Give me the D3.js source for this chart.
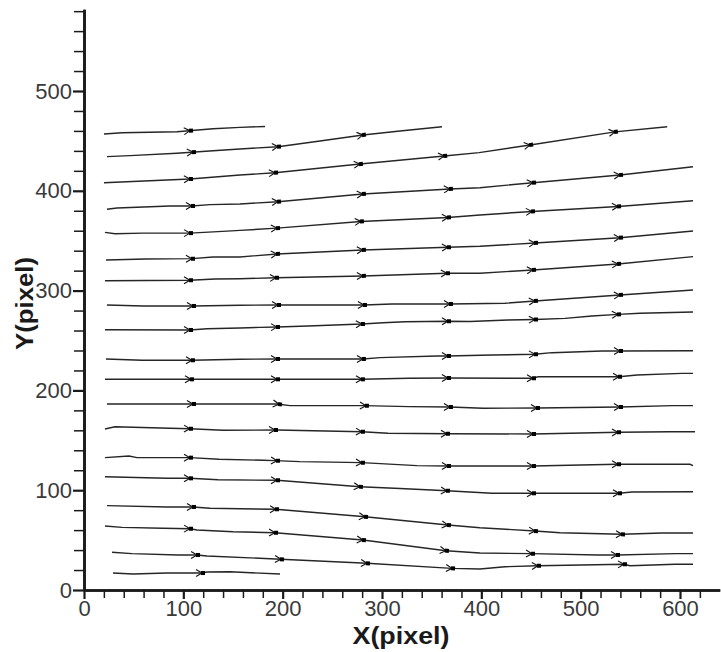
<!DOCTYPE html>
<html>
<head>
<meta charset="utf-8">
<script src="https://cdn.jsdelivr.net/npm/d3@7"></script>
<style>
  html, body { margin: 0; padding: 0; background: #fff; }
  svg { display: block; }
  text { font-family: "Liberation Sans", Arial, sans-serif; }
</style>
</head>
<body>
<svg id="chart" width="721" height="652"></svg>
<script>
// ---- data (data units: pixel coordinates of the measured field) ----
const xMajorTicks = [0, 100, 200, 300, 400, 500, 600];
const xMinorTicks = [20, 40, 60, 80, 120, 140, 160, 180, 220, 240, 260, 280, 320, 340, 360, 380, 420, 440, 460, 480, 520, 540, 560, 580, 620];
const yMajorTicks = [0, 100, 200, 300, 400, 500];
const yMinorTicks = [20, 40, 60, 80, 120, 140, 160, 180, 220, 240, 260, 280, 320, 340, 360, 380, 420, 440, 460, 480, 520, 540, 560, 580];
const xTitle = "X(pixel)";
const yTitle = "Y(pixel)";

const lineA = [[20.1,456.9],[38.3,458.2],[93.6,459.2],[129.9,462.2],[157,463.6],[182.2,464.4]];
const lineB = [[23.1,434.2],[46.3,435.2],[93.6,437.6],[129.9,440.2],[157,441.9],[195.3,444.2],[237.6,449.9],[280.8,455.9],[318.1,459.9],[360.4,464.2]];
const lineC = [[20.1,408.1],[106.7,411.8],[157,415.8],[192.3,418.1],[277.8,426.8],[362.6,434.9],[397.8,438.2],[449.1,445.9],[534.5,459],[587.1,464.2]];
const lineD = [[23.1,381.5],[33.2,382.8],[86.6,384.8],[108.7,384.8],[126.8,386.1],[157,386.8],[195.3,389.1],[280.8,396.8],[368.4,401.8],[398.6,403.1],[452,408.1],[539.6,415.8],[613.1,424.1]];
const lineE = [[21.1,358.3],[31.2,357],[59.4,357.6],[106.7,357.6],[144,359.6],[157,360.3],[194.3,362.6],[278.8,369.3],[366.4,373.3],[398.6,375.8],[451,379.3],[537.6,384.3],[613.1,390]];
const lineF = [[22.1,330.7],[62.4,331.7],[108.7,332],[129.9,333.7],[157,333.7],[194.3,336.7],[280.8,340.7],[366.4,343.4],[398.6,344.4],[454,347.7],[539.6,353],[613.1,359.7]];
const lineG = [[21.1,309.9],[106.7,310.3],[131.9,311.6],[157,311.9],[193.3,312.9],[280.8,314.7],[365.4,317.4],[398.6,317.4],[452,320.7],[537.6,326.7],[613.1,334]];
const lineH = [[23.1,285.6],[59.4,284.6],[109.7,284.6],[157,285.3],[195.3,285.6],[281.8,285.6],[309.9,286.6],[368.4,286.6],[423.8,287.3],[454,289.6],[539.6,295.6],[613.1,300.6]];
const lineI = [[21.1,260.8],[106.7,260.5],[123.8,261.8],[157,262.5],[177.2,263.2],[194.3,263.5],[225.5,264.5],[279.8,266.5],[301,267.8],[323.1,268.8],[366.4,269.3],[388.6,269],[426.8,270.5],[454,271],[484.2,272.2],[511.4,274.5],[537.6,276.2],[559.8,277.3],[613.1,278.6]];
const lineJ = [[22.1,231.5],[58.4,230.2],[108.7,230.2],[157,231.2],[194.3,231.5],[280.8,231.5],[298,232.8],[355.4,234.5],[366.4,234.5],[410.7,235.5],[454,236.2],[471.1,237.8],[521.5,239.5],[539.6,239.5],[613.1,239.8]];
const lineK = [[21.1,211.1],[107.7,211.1],[194.3,211.1],[279.8,211.1],[327.2,212.1],[366.4,212.4],[452,212.1],[457,213.7],[538.6,213.7],[556.7,215.4],[602,217.1],[613.1,217.1]];
const lineL = [[23.1,186.4],[109.7,186.4],[194.3,186.4],[207.4,184.7],[281.8,184.7],[327.2,183.7],[368.4,183.4],[401.7,182.1],[456,182.4],[539.6,183.4],[592.9,184.7],[613.1,184.7]];
const lineM = [[21.1,161.3],[31.2,163.6],[86.6,162],[106.7,161.6],[139.9,160],[194.3,160.3],[279.8,158.6],[306,157],[367.4,156.6],[452,156.3],[538.6,158],[590,158.6],[615.1,158.6]];
const lineN = [[21.1,132.6],[45.3,134.3],[53.4,132.6],[106.7,132.6],[135.9,131],[180.2,130],[192.3,129.6],[217.4,128.6],[279.8,127.6],[335.2,124.6],[366.4,124.2],[452,124.2],[536.6,126],[610.1,126],[613.1,124.7]];
const lineO = [[21.1,113.5],[83.6,111.9],[106.7,111.9],[134.9,110.5],[194.3,109.9],[277.8,103.5],[318.1,101.7],[365.4,99.5],[410.7,96.9],[452,96.9],[538.6,96.9],[551.7,98.2],[613.1,98.5]];
const lineP = [[23.1,84.5],[83.6,83.2],[109.7,83.2],[126.8,81.9],[193.3,80.9],[282.9,73.4],[366.4,65.1],[398.6,62.4],[454,59.1],[479.2,57.4],[541.6,55.8],[581.9,57.1],[613.1,57.1]];
const lineQ = [[21.1,64.1],[38.3,62.8],[79.5,61.8],[106.7,61.4],[113.8,60.1],[150,58.4],[192.3,57.4],[280.8,50.1],[364.4,39.4],[398.6,37.1],[451,36.4],[517.4,35.1],[536.6,35.1],[596,36.4],[613.1,36.4]];
const lineR = [[28.2,37.8],[48.3,36.4],[94.6,35.1],[113.8,35.1],[123.8,34.1],[198.3,30.8],[284.9,26.8],[370.5,21.7],[398.6,21],[423.8,23.3],[457,24.3],[543.6,25.8],[549.7,24.3],[595,25.8],[613.1,25.8]];
const lineS = [[29.2,17],[49.3,16],[83.6,17],[118.8,17],[123.8,18],[147,18.3],[197.3,16]];

const streamlines = [lineA, lineB, lineC, lineD, lineE, lineF, lineG, lineH, lineI, lineJ, lineK, lineL, lineM, lineN, lineO, lineP, lineQ, lineR, lineS];

// x positions (data units) of the arrow markers on each streamline
const arrowsX = [
  [106.7],
  [109.7, 195.3, 280.8],
  [106.7, 192.3, 277.8, 362.6, 449.1, 534.5],
  [108.7, 195.3, 280.8, 368.4, 452, 539.6],
  [106.7, 194.3, 278.8, 366.4, 451, 537.6],
  [108.7, 194.3, 280.8, 366.4, 454, 539.6],
  [106.7, 193.3, 280.8, 365.4, 452, 537.6],
  [109.7, 195.3, 281.8, 368.4, 454, 539.6],
  [106.7, 194.3, 279.8, 366.4, 454, 537.6],
  [108.7, 194.3, 280.8, 366.4, 454, 539.6],
  [107.7, 194.3, 279.8, 366.4, 452, 538.6],
  [109.7, 196.3, 283.8, 368.4, 456, 539.6],
  [106.7, 192.3, 279.8, 365.4, 452, 537.6],
  [106.7, 194.3, 279.8, 366.4, 452, 537.6],
  [106.7, 194.3, 277.8, 365.4, 452, 538.6],
  [109.7, 193.3, 282.9, 366.4, 454, 541.6],
  [106.7, 192.3, 280.8, 364.4, 451, 536.6],
  [113.8, 198.3, 284.9, 370.5, 457, 543.6],
  [118.8]
];

// ---- scales ----
const x = d3.scaleLinear().domain([0, 640]).range([84, 84 + 640 * 0.99333]);
const y = d3.scaleLinear().domain([0, 582]).range([590, 590 - 582 * 0.998]);

const svg = d3.select("#chart");
const ink = "#1a1a1a";

// ---- axes ----
const fontSize = 22;

const yMinor = svg.append("g").attr("transform", `translate(${x(0)},0)`)
  .call(d3.axisLeft(y).tickValues(yMinorTicks).tickSize(10).tickSizeOuter(0).tickFormat(""));
const yMajor = svg.append("g").attr("transform", `translate(${x(0)},0)`)
  .call(d3.axisLeft(y).tickValues(yMajorTicks).tickSize(11).tickSizeOuter(0).tickPadding(1).tickFormat(d3.format("d")));
const xMinor = svg.append("g").attr("transform", `translate(0,${y(0)})`)
  .call(d3.axisBottom(x).tickValues(xMinorTicks).tickSize(8).tickSizeOuter(0).tickFormat(""));
const xMajor = svg.append("g").attr("transform", `translate(0,${y(0)})`)
  .call(d3.axisBottom(x).tickValues(xMajorTicks).tickSize(9).tickSizeOuter(0).tickPadding(1).tickFormat(d3.format("d")));

[yMinor, yMajor, xMinor, xMajor].forEach(g => {
  g.select(".domain").attr("stroke", ink).attr("stroke-width", 2.6);
  g.selectAll(".tick line").attr("stroke", ink);
});
[yMinor, xMinor].forEach(g => g.selectAll(".tick line").attr("stroke-width", 1.5));
[yMajor, xMajor].forEach(g => g.selectAll(".tick line").attr("stroke-width", 2.2));
[yMajor, xMajor].forEach(g => g.selectAll(".tick text")
  .attr("font-size", fontSize)
  .attr("font-family", "'Liberation Sans', Arial, sans-serif")
  .attr("fill", "#3a3a3a"));

// ---- axis titles ----
svg.append("text")
  .attr("x", 401).attr("y", 643.5)
  .attr("text-anchor", "middle")
  .attr("font-size", 24).attr("font-weight", "bold")
  .attr("textLength", 97).attr("lengthAdjust", "spacingAndGlyphs")
  .attr("fill", ink)
  .text(xTitle);

svg.append("text")
  .attr("transform", "translate(33,303.5) rotate(-90)")
  .attr("text-anchor", "middle")
  .attr("font-size", 24).attr("font-weight", "bold")
  .attr("textLength", 93).attr("lengthAdjust", "spacingAndGlyphs")
  .attr("fill", ink)
  .text(yTitle);

// ---- streamlines ----
const lineGen = d3.line().x(d => x(d[0])).y(d => y(d[1]));
const plot = svg.append("g");

plot.selectAll("path.stream")
  .data(streamlines)
  .join("path")
  .attr("class", "stream")
  .attr("d", lineGen)
  .attr("fill", "none")
  .attr("stroke", "#262626")
  .attr("stroke-width", 1.4);

// ---- arrows: located on each streamline at the given x ----
function locate(pts, xv) {
  for (let i = 0; i < pts.length - 1; i++) {
    const a = pts[i], b = pts[i + 1];
    if (xv >= a[0] && xv <= b[0]) {
      const t = (xv - a[0]) / (b[0] - a[0] || 1);
      const px = x(a[0]) + t * (x(b[0]) - x(a[0]));
      const py = y(a[1]) + t * (y(b[1]) - y(a[1]));
      const ang = Math.atan2(y(b[1]) - y(a[1]), x(b[0]) - x(a[0])) * 180 / Math.PI;
      return { px, py, ang };
    }
  }
  return null;
}

const arrowData = [];
streamlines.forEach((pts, i) => {
  arrowsX[i].forEach(xv => {
    const p = locate(pts, xv);
    if (p) arrowData.push(p);
  });
});

const arrows = plot.selectAll("g.arrow")
  .data(arrowData)
  .join("g")
  .attr("class", "arrow")
  .attr("transform", d => `translate(${d.px},${d.py}) rotate(${d.ang})`);

arrows.append("path")
  .attr("d", "M-6,-3.5 L0,0 L-6,3.5")
  .attr("fill", "none")
  .attr("stroke", "#111")
  .attr("stroke-width", 1.1);

arrows.append("rect")
  .attr("x", -1).attr("y", -2)
  .attr("width", 4).attr("height", 4)
  .attr("fill", "#000");
</script>
</body>
</html>
